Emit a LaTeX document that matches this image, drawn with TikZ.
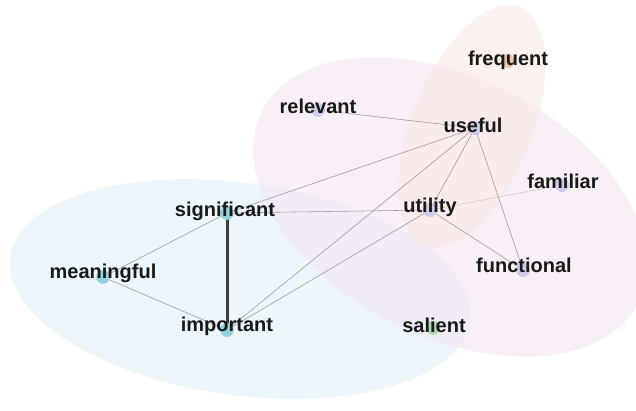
\documentclass[tikz,border=0pt]{standalone}
\usepackage{fontspec}
\setmainfont{Liberation Sans}
\pgfdeclarelayer{back}
\pgfdeclarelayer{edges}
\pgfsetlayers{back,edges,main}
\definecolor{cyanfill}{HTML}{8ED3E0}
\definecolor{lavfill}{HTML}{CFCDEE}
\definecolor{orfill}{HTML}{F2C3A8}
\definecolor{grfill}{HTML}{AEDDB0}
\definecolor{edgegray}{HTML}{9A9A9A}
\definecolor{blueblob}{HTML}{EDF6FB}
\definecolor{pinkblob}{HTML}{F3E1F1}
\definecolor{orblob}{HTML}{FAE6E0}
\tikzset{
  dot/.style={circle,minimum size=13pt,inner sep=0pt,line width=0.6pt},
  lab/.style={font=\bfseries\fontsize{20}{20}\selectfont,text=black!90,inner sep=0pt},
  edge/.style={draw=edgegray,line width=0.55pt},
  weak/.style={draw=edgegray!70,line width=0.5pt,dash pattern=on 1pt off 0.6pt},
  strong/.style={draw=black!75,line width=3pt}
}
\begin{document}
\begin{tikzpicture}[x=1pt,y=-1pt]
\useasboundingbox (0,0) rectangle (636,411);
\begin{pgfonlayer}{back}
\fill[white] (0,0) rectangle (636,411);
\fill[blueblob,rotate around={-8:(240,289)}] (240,289) ellipse [x radius=232pt, y radius=106pt];
\fill[pinkblob,fill opacity=0.5,rotate around={-27:(450,207)}] (450,207) ellipse [x radius=211pt, y radius=129pt];
\fill[orblob,fill opacity=0.5,rotate around={68:(472,126)}] (472,126) ellipse [x radius=128pt, y radius=60pt];
\end{pgfonlayer}

\node[dot,fill=orfill,draw=orfill!80!black!60] (freq) at (508,61) {};
\node[dot,fill=lavfill,draw=lavfill!80!black!60] (rel) at (318,110) {};
\node[dot,fill=lavfill,draw=lavfill!80!black!60] (use) at (475,128) {};
\node[dot,fill=lavfill,draw=lavfill!80!black!60] (uti) at (430,210) {};
\node[dot,fill=lavfill,draw=lavfill!80!black!60] (fam) at (562,185) {};
\node[dot,fill=lavfill,draw=lavfill!80!black!60] (fun) at (523,270) {};
\node[dot,fill=cyanfill,draw=cyanfill!80!black!60] (sig) at (227,213) {};
\node[dot,fill=cyanfill,draw=cyanfill!80!black!60] (imp) at (227,330) {};
\node[dot,fill=cyanfill,draw=cyanfill!80!black!60] (mea) at (103,277) {};
\node[dot,fill=grfill,draw=grfill!80!black!60] (sal) at (433,328) {};

\node[lab] at (508,60) {frequent};
\node[lab] at (318,106) {relevant};
\node[lab] at (473,125) {useful};
\node[lab] at (430,207) {utility};
\node[lab] at (563,181) {familiar};
\node[lab] at (524,265) {functional};
\node[lab] at (225,211) {significant};
\node[lab] at (227,326) {important};
\node[lab] at (103,273) {meaningful};
\node[lab] at (434,325) {salient};

\begin{pgfonlayer}{edges}
\draw[strong] (sig.center) -- (imp.center);
\draw[edge] (mea.center) -- (sig.center);
\draw[edge] (mea.center) -- (imp.center);
\draw[edge] (sig.center) -- (use.center);
\draw[edge] (sig.center) -- (uti.center);
\draw[edge] (imp.center) -- (use.center);
\draw[edge] (imp.center) -- (uti.center);
\draw[edge] (rel.center) -- (use.center);
\draw[edge] (use.center) -- (uti.center);
\draw[edge] (use.center) -- (fun.center);
\draw[edge] (uti.center) -- (fun.center);
\draw[weak] (uti.center) -- (fam.center);
\end{pgfonlayer}
\end{tikzpicture}
\end{document}
